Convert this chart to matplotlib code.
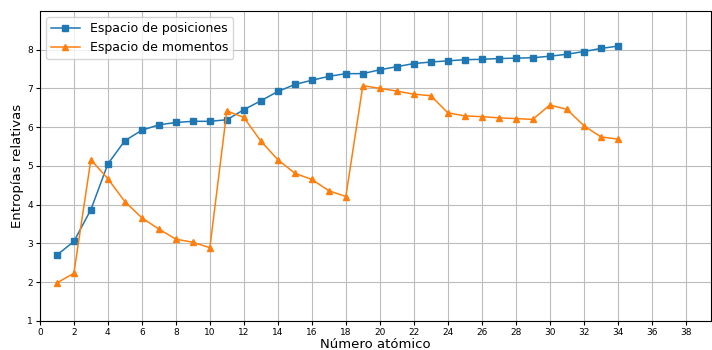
import matplotlib
matplotlib.use("Agg")
import matplotlib.pyplot as plt

z = list(range(1, 35))
posiciones = [2.70, 3.05, 3.87, 5.05, 5.65, 5.92, 6.06, 6.12, 6.15, 6.15,
              6.19, 6.45, 6.68, 6.92, 7.10, 7.21, 7.31, 7.38, 7.38, 7.48,
              7.56, 7.64, 7.68, 7.71, 7.74, 7.75, 7.77, 7.78, 7.79, 7.83,
              7.88, 7.95, 8.03, 8.09]
momentos = [1.98, 2.23, 5.16, 4.67, 4.08, 3.66, 3.37, 3.11, 3.03, 2.89,
            6.42, 6.25, 5.64, 5.16, 4.81, 4.65, 4.36, 4.21, 7.07, 7.00,
            6.93, 6.85, 6.81, 6.37, 6.29, 6.27, 6.24, 6.22, 6.20, 6.57,
            6.46, 6.04, 5.75, 5.69]
xticks = list(range(0, 40, 2))
yticks = list(range(1, 9))

fig = plt.figure(figsize=(7.12, 3.5), dpi=100)
ax = fig.add_axes([0.056, 0.083, 0.943, 0.886])
ax.plot(z, posiciones, marker='s', markersize=4.5, color='#1f77b4', lw=1.1, label='Espacio de posiciones')
ax.plot(z, momentos, marker='^', markersize=4.5, color='#ff7f0e', lw=1.1, label='Espacio de momentos')
ax.set_xlim(0, 39.5)
ax.set_ylim(1, 9)
ax.set_xticks(xticks)
ax.set_yticks(yticks)
ax.tick_params(labelsize=6.5, pad=2, length=3)
ax.grid(True, color='#bcbcbc', lw=0.8)
ax.set_xlabel('Número atómico', fontsize=9.5, labelpad=1)
ax.set_ylabel('Entropías relativas', fontsize=9.5, labelpad=2)
ax.legend(loc='upper left', fontsize=9, handlelength=2.3)
fig.savefig('out.png', dpi=100)
